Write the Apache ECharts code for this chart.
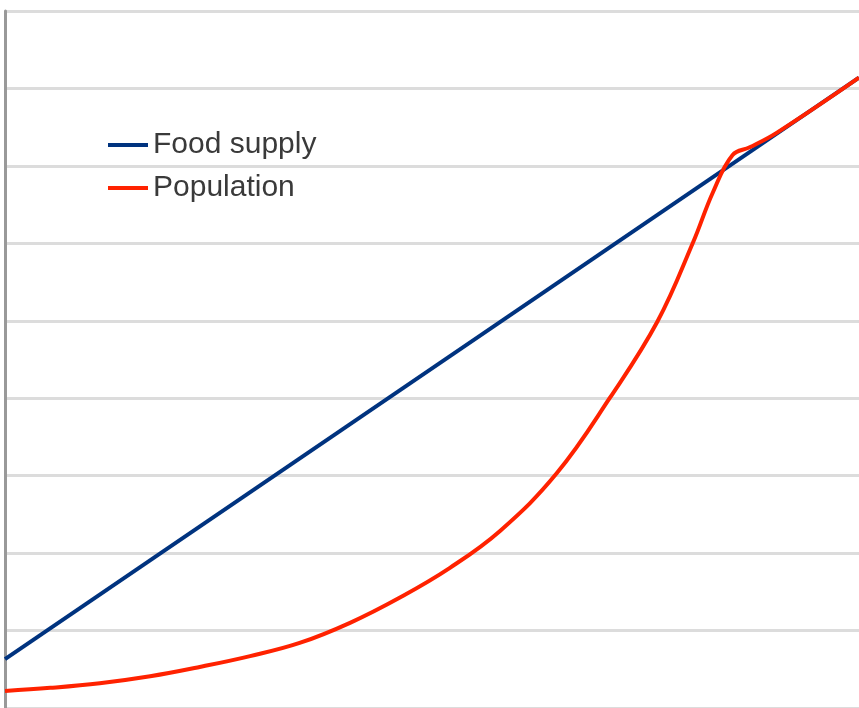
<!DOCTYPE html>
<html>
<head>
<meta charset="utf-8">
<script src="https://cdn.jsdelivr.net/npm/echarts@6/dist/echarts.min.js"></script>
<style>
  html, body { margin: 0; padding: 0; background: #fff; }
  #chart { width: 859px; height: 708px; }
</style>
</head>
<body>
<div id="chart"></div>
<script>
// values (x 0..10, y 0..9)
const foodX = [0, 10];
const foodY = [0.63, 8.14];

const popX = [0, 0.53, 1.11, 1.70, 2.28, 2.87, 3.45, 4.04, 4.63, 5.21, 5.80, 6.46, 7.08, 7.64, 8.06, 8.29, 8.52, 8.72, 9.04, 10];
const popY = [0.22, 0.26, 0.32, 0.41, 0.53, 0.67, 0.84, 1.10, 1.43, 1.81, 2.29, 3.03, 4.00, 4.99, 6.02, 6.66, 7.14, 7.24, 7.43, 8.14];

const names = ['Food supply', 'Population'];

const pairs = (xs, ys) => xs.map((x, i) => [x, ys[i]]);

const chart = echarts.init(document.getElementById('chart'));
chart.setOption({
  animation: false,
  grid: { left: 5, right: 0, top: 11, bottom: -3 },
  legend: {
    orient: 'vertical',
    left: 103,
    top: 125,
    icon: 'rect',
    itemWidth: 40,
    itemHeight: 4,
    itemGap: 13,
    textStyle: { fontFamily: 'Liberation Sans', fontSize: 30, color: '#3a3a3a', lineHeight: 30 },
    data: names
  },
  xAxis: {
    type: 'value', min: 0, max: 10,
    axisLine: { show: false }, axisTick: { show: false }, axisLabel: { show: false },
    splitLine: { show: false }
  },
  yAxis: {
    type: 'value', min: 0, max: 9, interval: 1,
    axisLine: { show: true, lineStyle: { color: '#999', width: 3 } },
    axisTick: { show: false }, axisLabel: { show: false },
    splitLine: { show: true, lineStyle: { color: '#dcdcdc', width: 3 } }
  },
  series: [
    {
      name: names[0], type: 'line', symbol: 'none',
      itemStyle: { color: '#00337f' },
      lineStyle: { color: '#00337f', width: 4 },
      data: pairs(foodX, foodY)
    },
    {
      name: names[1], type: 'line', symbol: 'none', smooth: 0.4,
      itemStyle: { color: '#ff2200' },
      lineStyle: { color: '#ff2200', width: 4 },
      data: pairs(popX, popY)
    }
  ]
});
</script>
</body>
</html>
